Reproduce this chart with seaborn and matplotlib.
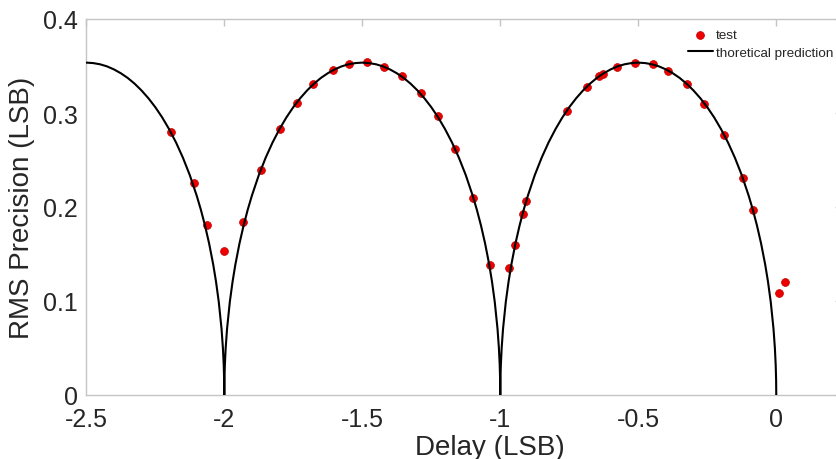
import numpy as np
import pandas as pd
import matplotlib
matplotlib.use("Agg")
import matplotlib.pyplot as plt
import seaborn as sns

# ==========================
# Data
# ==========================

# measured points
test_x = [-2.193, -2.109, -2.062, -2.0, -1.933, -1.867, -1.798, -1.738,
          -1.678, -1.607, -1.548, -1.484, -1.421, -1.355, -1.288, -1.226,
          -1.165, -1.098, -1.037, -0.967, -0.946, -0.918, -0.906, -0.759,
          -0.685, -0.642, -0.629, -0.576, -0.513, -0.448, -0.391, -0.324,
          -0.261, -0.190, -0.122, -0.083, 0.011, 0.030]
test_y = [0.280, 0.226, 0.181, 0.153, 0.184, 0.239, 0.283, 0.311,
          0.331, 0.346, 0.352, 0.354, 0.349, 0.339, 0.321, 0.297,
          0.262, 0.210, 0.138, 0.135, 0.160, 0.193, 0.206, 0.302,
          0.328, 0.339, 0.342, 0.349, 0.353, 0.352, 0.345, 0.331,
          0.310, 0.277, 0.231, 0.197, 0.108, 0.120]

# theoretical curve, traced point by point
theory_x = (
    [-2.5, -2.475, -2.45, -2.425, -2.4, -2.375, -2.35, -2.325, -2.3, -2.275, -2.25,
     -2.225, -2.2, -2.175, -2.15, -2.125, -2.1, -2.085, -2.07, -2.055, -2.04, -2.03,
     -2.02, -2.01, -2.005, -2.002, -2.0005, -2.0]
    + [-1.9995, -1.998, -1.995, -1.99, -1.98, -1.97, -1.96, -1.945, -1.93, -1.915,
       -1.9, -1.875, -1.85, -1.825, -1.8, -1.775, -1.75, -1.725, -1.7, -1.675, -1.65,
       -1.625, -1.6, -1.575, -1.55, -1.525, -1.5]
    + [-1.475, -1.45, -1.425, -1.4, -1.375, -1.35, -1.325, -1.3, -1.275, -1.25,
       -1.225, -1.2, -1.175, -1.15, -1.125, -1.1, -1.085, -1.07, -1.055, -1.04, -1.03,
       -1.02, -1.01, -1.005, -1.002, -1.0005, -1.0]
    + [-0.9995, -0.998, -0.995, -0.99, -0.98, -0.97, -0.96, -0.945, -0.93, -0.915,
       -0.9, -0.875, -0.85, -0.825, -0.8, -0.775, -0.75, -0.725, -0.7, -0.675, -0.65,
       -0.625, -0.6, -0.575, -0.55, -0.525, -0.5]
    + [-0.475, -0.45, -0.425, -0.4, -0.375, -0.35, -0.325, -0.3, -0.275, -0.25,
       -0.225, -0.2, -0.175, -0.15, -0.125, -0.1, -0.085, -0.07, -0.055, -0.04, -0.03,
       -0.02, -0.01, -0.005, -0.002, -0.0005, 0.0]
)
theory_y = (
    [0.3536, 0.3531, 0.3518, 0.3496, 0.3464, 0.3423, 0.3373, 0.3312, 0.3240, 0.3157, 0.3062,
     0.2953, 0.2828, 0.2687, 0.2525, 0.2339, 0.2121, 0.1972, 0.1804, 0.1612, 0.1386, 0.1206,
     0.0990, 0.0704, 0.0499, 0.0316, 0.0158, 0.0]
    + [0.0158, 0.0316, 0.0499, 0.0704, 0.0990, 0.1206, 0.1386, 0.1612, 0.1804, 0.1972,
       0.2121, 0.2339, 0.2525, 0.2687, 0.2828, 0.2953, 0.3062, 0.3157, 0.3240, 0.3312, 0.3373,
       0.3423, 0.3464, 0.3496, 0.3518, 0.3531, 0.3536]
    + [0.3531, 0.3518, 0.3496, 0.3464, 0.3423, 0.3373, 0.3312, 0.3240, 0.3157, 0.3062,
       0.2953, 0.2828, 0.2687, 0.2525, 0.2339, 0.2121, 0.1972, 0.1804, 0.1612, 0.1386, 0.1206,
       0.0990, 0.0704, 0.0499, 0.0316, 0.0158, 0.0]
    + [0.0158, 0.0316, 0.0499, 0.0704, 0.0990, 0.1206, 0.1386, 0.1612, 0.1804, 0.1972,
       0.2121, 0.2339, 0.2525, 0.2687, 0.2828, 0.2953, 0.3062, 0.3157, 0.3240, 0.3312, 0.3373,
       0.3423, 0.3464, 0.3496, 0.3518, 0.3531, 0.3536]
    + [0.3531, 0.3518, 0.3496, 0.3464, 0.3423, 0.3373, 0.3312, 0.3240, 0.3157, 0.3062,
       0.2953, 0.2828, 0.2687, 0.2525, 0.2339, 0.2121, 0.1972, 0.1804, 0.1612, 0.1386, 0.1206,
       0.0990, 0.0704, 0.0499, 0.0316, 0.0158, 0.0]
)

x_ticks = [-2.5, -2, -1.5, -1, -0.5, 0]
x_tick_labels = ["-2.5", "-2", "-1.5", "-1", "-0.5", "0"]
y_ticks = [0, 0.1, 0.2, 0.3, 0.4]
y_tick_labels = ["0", "0.1", "0.2", "0.3", "0.4"]

test_df = pd.DataFrame({"delay": test_x, "rms": test_y})
theory_df = pd.DataFrame({"delay": theory_x, "rms": theory_y})

# ==========================
# Plot
# ==========================

sns.set_style("white")
plt.rcParams["font.family"] = ["Liberation Sans", "DejaVu Sans"]

fig = plt.figure(figsize=(8.37, 4.6), dpi=100)
# right edge of the box sits just past the image edge (cropped original)
ax = fig.add_axes([86.3 / 837, 64 / 460, 756.2 / 837, 376 / 460])

sns.scatterplot(data=test_df, x="delay", y="rms", ax=ax, color="#ee0000",
                edgecolor="#c00000", linewidth=0.5, s=32, label="test", zorder=2)
sns.lineplot(data=theory_df, x="delay", y="rms", ax=ax, color="black",
             linewidth=1.5, estimator=None, sort=False,
             label="thoretical prediction", zorder=3)

ax.set_xlim(-2.5, 0.24)
ax.set_ylim(0, 0.4)
ax.set_xticks(x_ticks)
ax.set_xticklabels(x_tick_labels)
ax.set_yticks(y_ticks)
ax.set_yticklabels(y_tick_labels)

for side in ["left", "bottom", "top", "right"]:
    ax.spines[side].set_color("#c4c4c4")
    ax.spines[side].set_linewidth(1.0)

ax.tick_params(axis="both", direction="in", length=5, width=1.0,
               color="#c4c4c4", labelcolor="#262626", labelsize=18,
               top=True, right=True)
ax.tick_params(axis="x", pad=9)
ax.tick_params(axis="y", pad=6)

ax.set_xlabel("Delay (LSB)", fontsize=20, color="#262626", labelpad=2,
              x=(490 - 86.3) / 756.2)
ax.set_ylabel("RMS Precision (LSB)", fontsize=20, color="#262626", labelpad=6)

ax.legend(loc="upper left", bbox_to_anchor=(688 / 837, 1 - 30 / 460),
          bbox_transform=fig.transFigure, frameon=False, fontsize=9.7,
          borderpad=0, borderaxespad=0, handlelength=1.85, handletextpad=0.2,
          labelspacing=0.35, markerscale=1.0)

fig.savefig("out.png", dpi=100)
